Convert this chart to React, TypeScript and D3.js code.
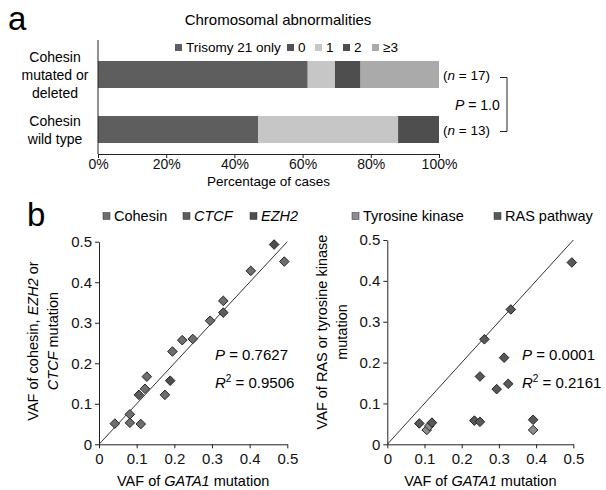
import React, { useEffect, useRef } from "react";
import * as d3 from "d3";

// panel a: chromosomal abnormalities (percent of cases)
const groups = ["Cohesin mutated or deleted", "Cohesin wild type"];
const groupLabels = [["Cohesin", "mutated or", "deleted"], ["Cohesin", "wild type"]];
const groupN = ["17", "13"];
const abnormalityKeys = ["Trisomy 21 only", "0", "1", "2", "≥3"];
const mutatedPct = [61.5, 0, 8, 7.5, 23];
const wildTypePct = [47, 0, 41, 12, 0];
const pctTicks = [0, 20, 40, 60, 80, 100];

// panel b left: GATA1 VAF vs cohesin / CTCF / EZH2 VAF
const leftGata1 = [0.042, 0.082, 0.082, 0.111, 0.106, 0.122, 0.127, 0.175, 0.189, 0.195, 0.221, 0.249, 0.295, 0.33, 0.33, 0.403, 0.465, 0.492];
const leftVaf = [0.051, 0.074, 0.053, 0.05, 0.122, 0.137, 0.167, 0.122, 0.157, 0.229, 0.257, 0.26, 0.305, 0.325, 0.354, 0.428, 0.493, 0.451];
const leftType = ["Cohesin", "Cohesin", "Cohesin", "Cohesin", "CTCF", "Cohesin", "Cohesin", "Cohesin", "EZH2", "Cohesin", "Cohesin", "Cohesin", "Cohesin", "CTCF", "Cohesin", "Cohesin", "EZH2", "Cohesin"];
const leftKeys = ["Cohesin", "CTCF", "EZH2"];

// panel b right: GATA1 VAF vs RAS / tyrosine kinase VAF
const rightGata1 = [0.086, 0.106, 0.113, 0.12, 0.234, 0.249, 0.249, 0.261, 0.294, 0.314, 0.325, 0.332, 0.392, 0.392, 0.496];
const rightVaf = [0.051, 0.035, 0.045, 0.053, 0.058, 0.055, 0.166, 0.257, 0.135, 0.212, 0.148, 0.33, 0.06, 0.035, 0.445];
const rightType = ["RAS pathway", "Tyrosine kinase", "Tyrosine kinase", "RAS pathway", "RAS pathway", "RAS pathway", "RAS pathway", "RAS pathway", "RAS pathway", "RAS pathway", "RAS pathway", "RAS pathway", "RAS pathway", "Tyrosine kinase", "RAS pathway"];
const rightKeys = ["Tyrosine kinase", "RAS pathway"];

const vafTicks = [0, 0.1, 0.2, 0.3, 0.4, 0.5];
const identityLine = [[0, 0], [0.5, 0.5]];

const FONT = "'Liberation Sans', Arial, sans-serif";

function App() {
  const ref = useRef(null);

  useEffect(() => {
    const svg = d3.select(ref.current);
    svg.selectAll("*").remove();

    // ---------- panel a ----------
    const xA = d3.scaleLinear().domain([0, 100]).range([98, 439]);
    const yA = d3.scalePoint().domain(groups).range([74.5, 129.5]);
    const barH = 27;
    const colorA = d3.scaleOrdinal().domain(abnormalityKeys)
      .range(["#5e5e5e", "#525252", "#c6c6c6", "#4e4e4e", "#aaaaaa"]);

    const rows = groups.map((g, i) => {
      const vals = i === 0 ? mutatedPct : wildTypePct;
      const row = { group: g };
      abnormalityKeys.forEach((k, j) => (row[k] = vals[j]));
      return row;
    });
    const stacked = d3.stack().keys(abnormalityKeys)(rows);

    const a = svg.append("g");
    a.append("text").attr("x", 8).attr("y", 30).attr("font-size", 33)
      .attr("font-family", FONT).text("a");

    a.append("text").attr("x", 278).attr("y", 25).attr("text-anchor", "middle")
      .attr("font-size", 15).attr("font-family", FONT).text("Chromosomal abnormalities");

    // legend a
    const legA = [175, 287, 315, 343, 372];
    abnormalityKeys.forEach((k, i) => {
      a.append("rect").attr("x", legA[i]).attr("y", 44).attr("width", 7).attr("height", 7)
        .attr("fill", colorA(k));
      a.append("text").attr("x", legA[i] + 11).attr("y", 52).attr("font-size", 13.5)
        .attr("font-family", FONT).text(k);
    });

    stacked.forEach((layer) => {
      a.append("g").selectAll("rect").data(layer).join("rect")
        .attr("x", (d) => xA(d[0]))
        .attr("y", (d) => yA(d.data.group) - barH / 2)
        .attr("width", (d) => xA(d[1]) - xA(d[0]))
        .attr("height", barH)
        .attr("fill", colorA(layer.key));
    });

    a.append("line").attr("x1", xA(0)).attr("x2", xA(0)).attr("y1", 40).attr("y2", 154)
      .attr("stroke", "#222").attr("stroke-width", 1);
    const axA = a.append("g").attr("transform", "translate(0,154)")
      .call(d3.axisBottom(xA).tickValues(pctTicks).tickFormat((d) => d + "%")
        .tickSize(4).tickSizeOuter(0).tickPadding(1));
    axA.selectAll("text").attr("font-size", 14).attr("font-family", FONT).attr("fill", "#111");
    axA.selectAll("line,path").attr("stroke", "#222");

    a.append("text").attr("x", xA(50)).attr("y", 186).attr("text-anchor", "middle")
      .attr("font-size", 13.5).attr("font-family", FONT).text("Percentage of cases");

    groups.forEach((g, i) => {
      const lines = groupLabels[i];
      const cy = yA(g);
      lines.forEach((l, j) => {
        a.append("text").attr("x", 55).attr("y", cy + (j - (lines.length - 1) / 2) * 18 + 5)
          .attr("text-anchor", "middle").attr("font-size", 14).attr("font-family", FONT).text(l);
      });
      const t = a.append("text").attr("x", 443).attr("y", cy + 5).attr("font-size", 13.5)
        .attr("font-family", FONT);
      t.append("tspan").text("(");
      t.append("tspan").attr("font-style", "italic").text("n");
      t.append("tspan").text(" = " + groupN[i] + ")");
    });
    const y1 = yA(groups[0]) + 3, y2 = yA(groups[1]) + 2;
    a.append("path").attr("d", `M500,${y1}H507V${y2}H500`).attr("fill", "none")
      .attr("stroke", "#222").attr("stroke-width", 1);
    const pa = a.append("text").attr("x", 455).attr("y", (y1 + y2) / 2 + 5)
      .attr("font-size", 14).attr("font-family", FONT);
    pa.append("tspan").attr("font-style", "italic").text("P");
    pa.append("tspan").text(" = 1.0");

    // ---------- panel b ----------
    svg.append("text").attr("x", 27).attr("y", 226).attr("font-size", 33)
      .attr("font-family", FONT).text("b");

    const square = d3.symbol().type(d3.symbolSquare).size(46);

    const scatter = (opts) => {
      const { x0, x1, yTop, xs, ys, types, keys, colors, legX, titleLines, titleX, titleY, statX, p, r2 } = opts;
      const g = svg.append("g");
      const x = d3.scaleLinear().domain([0, 0.5]).range([x0, x1]);
      const y = d3.scaleLinear().domain([0, 0.5]).range([444.3, yTop]);
      const color = d3.scaleOrdinal().domain(keys).range(colors);

      const axX = g.append("g").attr("transform", `translate(0,${y(0)})`)
        .call(d3.axisBottom(x).tickValues(vafTicks).tickFormat(d3.format("~g"))
          .tickSize(4).tickSizeOuter(0).tickPadding(5));
      const axY = g.append("g").attr("transform", `translate(${x(0)},0)`)
        .call(d3.axisLeft(y).tickValues(vafTicks).tickFormat(d3.format("~g"))
          .tickSize(4).tickSizeOuter(0).tickPadding(3));
      [axX, axY].forEach((ax) => {
        ax.selectAll("text").attr("font-size", 15).attr("font-family", FONT).attr("fill", "#111");
        ax.selectAll("line,path").attr("stroke", "#222");
      });

      g.append("path").datum(identityLine)
        .attr("d", d3.line().x((d) => x(d[0])).y((d) => y(d[1])))
        .attr("stroke", "#333").attr("stroke-width", 1).attr("fill", "none");

      g.append("g").selectAll("path").data(xs.map((v, i) => ({ x: v, y: ys[i], t: types[i] })))
        .join("path")
        .attr("d", square)
        .attr("transform", (d) => `translate(${x(d.x)},${y(d.y)}) rotate(45)`)
        .attr("fill", (d) => color(d.t))
        .attr("stroke", "#1e1e1e").attr("stroke-width", 0.9);

      // legend
      keys.forEach((k, i) => {
        g.append("rect").attr("x", legX[i]).attr("y", 212.5).attr("width", 7).attr("height", 7)
          .attr("fill", color(k)).attr("stroke", "#333").attr("stroke-width", 0.5);
        g.append("text").attr("x", legX[i] + 11).attr("y", 221).attr("font-size", 14.5)
          .attr("font-family", FONT).attr("font-style", k === "CTCF" || k === "EZH2" ? "italic" : "normal")
          .text(k);
      });

      // axis titles
      const xt = g.append("text").attr("x", (x0 + x1) / 2).attr("y", 486).attr("text-anchor", "middle")
        .attr("font-size", 14.5).attr("font-family", FONT);
      xt.append("tspan").text("VAF of ");
      xt.append("tspan").attr("font-style", "italic").text("GATA1");
      xt.append("tspan").text(" mutation");

      titleLines.forEach((parts, j) => {
        const t = g.append("text")
          .attr("transform", `translate(${titleX[j]},${titleY}) rotate(-90)`)
          .attr("text-anchor", "middle").attr("font-size", 14.5).attr("font-family", FONT);
        parts.forEach((pt) => t.append("tspan").attr("font-style", pt[1] ? "italic" : "normal").text(pt[0]));
      });

      const tp = g.append("text").attr("x", statX).attr("y", 360).attr("font-size", 15).attr("font-family", FONT);
      tp.append("tspan").attr("font-style", "italic").text("P");
      tp.append("tspan").text(" = " + p);
      const tr = g.append("text").attr("x", statX).attr("y", 388).attr("font-size", 15).attr("font-family", FONT);
      tr.append("tspan").attr("font-style", "italic").text("R");
      tr.append("tspan").attr("font-size", 10).attr("dy", -6).text("2");
      tr.append("tspan").attr("dy", 6).text(" = " + r2);
    };

    scatter({
      x0: 99, x1: 287.3, yTop: 241.7,
      xs: leftGata1, ys: leftVaf, types: leftType, keys: leftKeys,
      colors: ["#6e6e6e", "#5c5c5c", "#4e4e4e"], legX: [103, 183, 250],
      titleLines: [[["VAF of cohesin, ", 0], ["EZH2", 1], [" or", 0]], [["CTCF", 1], [" mutation", 0]]],
      titleX: [38, 58], titleY: 341, statX: 215, p: "0.7627", r2: "0.9506",
    });
    scatter({
      x0: 387.3, x1: 573.3, yTop: 240,
      xs: rightGata1, ys: rightVaf, types: rightType, keys: rightKeys,
      colors: ["#8c8c8c", "#585858"], legX: [352, 494],
      titleLines: [[["VAF of RAS or tyrosine kinase", 0]], [["mutation", 0]]],
      titleX: [327, 347], titleY: 332, statX: 522, p: "0.0001", r2: "0.2161",
    });
  }, []);

  return (
    <svg ref={ref} width={606} height={490}
      style={{ position: "absolute", left: 0, top: 0, background: "#fff" }} />
  );
}

export default App;
